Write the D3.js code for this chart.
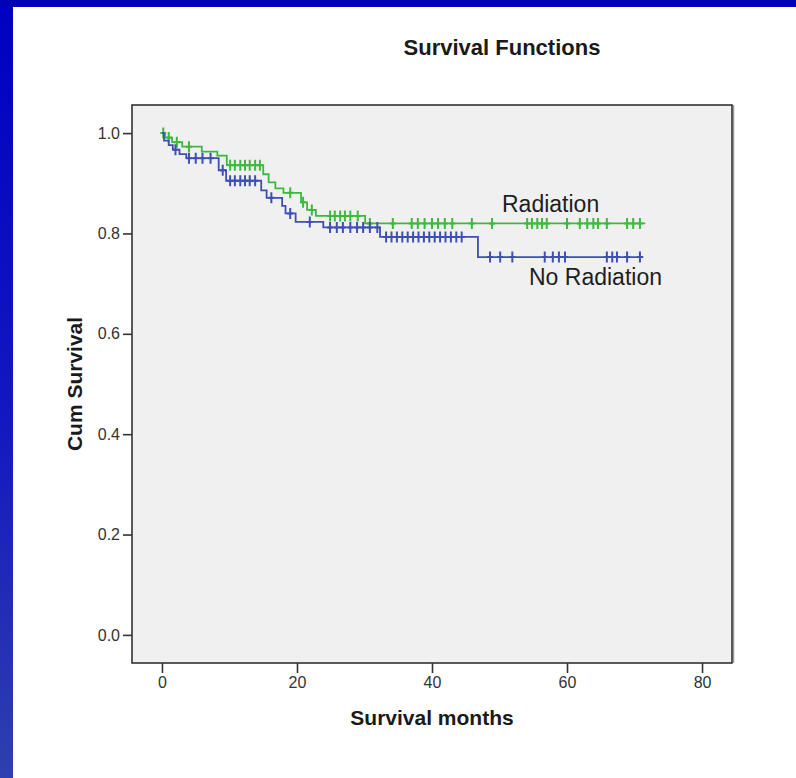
<!DOCTYPE html>
<html>
<head>
<meta charset="utf-8">
<script src="https://cdn.jsdelivr.net/npm/d3@7"></script>
<style>
  html, body { margin: 0; padding: 0; background: #ffffff; }
  svg { display: block; }
  text { font-family: "Liberation Sans", Arial, Helvetica, sans-serif; }
</style>
</head>
<body>
<svg id="chart" width="796" height="778"></svg>
<script>
// Kaplan-Meier survival estimates, by treatment group (months, cumulative survival)
const radiationEventTimes = [0.45, 1.5, 3.0, 5.9, 8.2, 9.6, 15.0, 15.8, 16.8, 18.0, 20.6, 21.5, 22.8, 30.1];
const radiationSurvival   = [0.991, 0.982, 0.973, 0.963, 0.955, 0.936, 0.918, 0.902, 0.890, 0.881, 0.862, 0.847, 0.835, 0.820];
const radiationCensored   = [0.2, 1.0, 2.2, 4.0, 10.1, 10.8, 11.6, 12.3, 13.0, 13.8, 14.5, 19.0, 20.9, 22.2,
                             24.9, 25.6, 26.4, 27.1, 27.9, 29.0, 30.8, 34.2, 37.0, 37.9, 38.9, 40.0, 40.9, 41.9,
                             43.0, 45.9, 48.9, 54.1, 54.8, 55.6, 56.3, 57.0, 60.0, 61.9, 63.0, 63.9, 64.6, 65.9,
                             68.9, 69.8, 70.8];
const radiationLastFollowUp = 71.6;

const noRadiationEventTimes = [0.3, 1.0, 1.6, 2.6, 3.6, 8.4, 9.5, 14.7, 15.5, 17.8, 18.3, 19.8, 23.9, 32.3, 46.8];
const noRadiationSurvival   = [0.985, 0.976, 0.967, 0.958, 0.950, 0.926, 0.905, 0.886, 0.871, 0.855, 0.840, 0.823, 0.812, 0.793, 0.753];
const noRadiationCensored   = [2.0, 4.0, 5.0, 6.0, 7.2, 9.0, 10.1, 10.8, 11.6, 12.3, 13.0, 13.8, 16.2, 19.0, 21.9,
                               24.9, 25.9, 26.8, 27.9, 28.9, 29.8, 30.8, 31.9, 33.2, 34.0, 34.8, 35.6, 36.4, 37.2,
                               38.0, 38.8, 39.6, 40.4, 41.2, 42.0, 42.8, 43.6, 44.4, 48.6, 50.1, 51.9, 56.7, 57.9,
                               58.8, 59.7, 65.9, 66.7, 67.4, 68.9, 70.8];
const noRadiationLastFollowUp = 71.3;

const xTicks = [0, 20, 40, 60, 80];
const yTicks = [0.0, 0.2, 0.4, 0.6, 0.8, 1.0];

const groups = [
  { name: "Radiation",    times: radiationEventTimes,   surv: radiationSurvival,   censored: radiationCensored,   end: radiationLastFollowUp,   color: "#3dba3d" },
  { name: "No Radiation", times: noRadiationEventTimes, surv: noRadiationSurvival, censored: noRadiationCensored, end: noRadiationLastFollowUp, color: "#3f4fb4" }
];

const svg = d3.select("#chart");

// slide frame: blue bar along the top and a shaded bar down the left side
const defs = svg.append("defs");
const grad = defs.append("linearGradient").attr("id", "sideBar")
  .attr("x1", 0).attr("y1", 0).attr("x2", 0).attr("y2", 1);
grad.append("stop").attr("offset", 0).attr("stop-color", "#0000c2");
grad.append("stop").attr("offset", 0.55).attr("stop-color", "#1418c0");
grad.append("stop").attr("offset", 1).attr("stop-color", "#2e40ae");
svg.append("rect").attr("x", 0).attr("y", 0).attr("width", 13).attr("height", 778).attr("fill", "url(#sideBar)");
svg.append("rect").attr("x", 0).attr("y", 0).attr("width", 796).attr("height", 7).attr("fill", "#0000b6");

// plot frame
const plot = { left: 132, top: 105, right: 732, bottom: 663 };

const x = d3.scaleLinear().domain([-4.44, 84.44]).range([plot.left, plot.right]);
const y = d3.scaleLinear().domain([-0.056, 1.056]).range([plot.bottom, plot.top]);

svg.append("rect")
  .attr("x", plot.left).attr("y", plot.top)
  .attr("width", plot.right - plot.left).attr("height", plot.bottom - plot.top)
  .attr("fill", "#f0f0f0");

// title
svg.append("text")
  .attr("x", 502).attr("y", 55)
  .attr("text-anchor", "middle")
  .attr("font-size", 22).attr("font-weight", "bold").attr("fill", "#1a1a1a")
  .text("Survival Functions");

// survival step curves
const stepLine = d3.line()
  .x(d => x(d[0]))
  .y(d => y(d[1]))
  .curve(d3.curveStepAfter);

function survivalAt(g, t) {
  const i = d3.bisectRight(g.times, t);
  return i === 0 ? 1 : g.surv[i - 1];
}

groups.forEach(g => {
  const pts = [[0, 1]];
  g.times.forEach((t, i) => pts.push([t, g.surv[i]]));
  pts.push([g.end, g.surv[g.surv.length - 1]]);

  const layer = svg.append("g");
  layer.append("path")
    .attr("d", stepLine(pts))
    .attr("fill", "none")
    .attr("stroke", g.color)
    .attr("stroke-width", 1.8);

  // censored observations
  layer.selectAll("path.cens")
    .data(g.censored)
    .join("path")
    .attr("class", "cens")
    .attr("d", t => {
      const cx = x(t), cy = y(survivalAt(g, t));
      return `M${cx},${cy - 5.5}V${cy + 5.5}M${cx - 3},${cy}H${cx + 3}`;
    })
    .attr("stroke", g.color)
    .attr("stroke-width", 2)
    .attr("fill", "none");
});

// group labels
svg.append("text").attr("x", 502).attr("y", 212)
  .attr("font-size", 23).attr("fill", "#1e1e1e").text("Radiation");
svg.append("text").attr("x", 529).attr("y", 285)
  .attr("font-size", 23).attr("fill", "#1e1e1e").text("No Radiation");

// plot border with a slight shadow on the right edge
svg.append("line")
  .attr("x1", plot.right + 1.5).attr("x2", plot.right + 1.5)
  .attr("y1", plot.top).attr("y2", plot.bottom)
  .attr("stroke", "#9a9a9a").attr("stroke-width", 1.5);
svg.append("rect")
  .attr("x", plot.left).attr("y", plot.top)
  .attr("width", plot.right - plot.left).attr("height", plot.bottom - plot.top)
  .attr("fill", "none").attr("stroke", "#333").attr("stroke-width", 1.6);

// axes
const xAxis = svg.append("g")
  .attr("transform", `translate(0,${plot.bottom})`)
  .call(d3.axisBottom(x).tickValues(xTicks).tickSize(10).tickPadding(4).tickFormat(d3.format("d")));
const yAxis = svg.append("g")
  .attr("transform", `translate(${plot.left},0)`)
  .call(d3.axisLeft(y).tickValues(yTicks).tickSize(9).tickPadding(3).tickFormat(d3.format(".1f")));

[xAxis, yAxis].forEach(a => {
  a.select(".domain").remove();
  a.selectAll(".tick line").attr("stroke", "#333").attr("stroke-width", 1.6);
  a.selectAll(".tick text")
    .attr("font-family", "'Liberation Sans', Arial, sans-serif")
    .attr("font-size", 16).attr("fill", "#333");
});

// axis titles
svg.append("text")
  .attr("x", (plot.left + plot.right) / 2).attr("y", 725)
  .attr("text-anchor", "middle")
  .attr("font-size", 21).attr("font-weight", "bold").attr("fill", "#1a1a1a")
  .text("Survival months");
svg.append("text")
  .attr("transform", `translate(82,${(plot.top + plot.bottom) / 2}) rotate(-90)`)
  .attr("text-anchor", "middle")
  .attr("font-size", 21).attr("font-weight", "bold").attr("fill", "#1a1a1a")
  .text("Cum Survival");
</script>
</body>
</html>
